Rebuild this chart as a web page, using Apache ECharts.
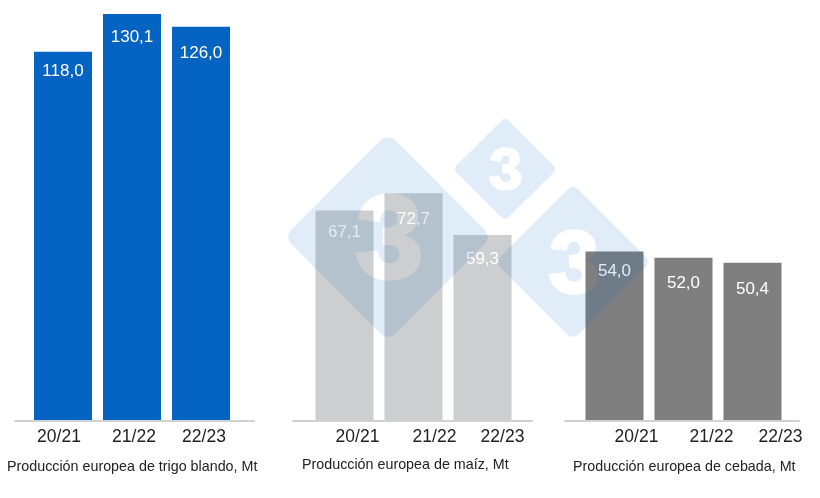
<!DOCTYPE html>
<html>
<head>
<meta charset="utf-8">
<style>
  html, body { margin: 0; padding: 0; background: #fff; }
  #app { width: 820px; height: 498px; }
</style>
<script src="https://cdn.jsdelivr.net/npm/echarts@6/dist/echarts.min.js"></script>
</head>
<body>
<div id="app"></div>
<script>
var campaigns = ['20/21', '21/22', '22/23'];
var trigoValues = [118.0, 130.1, 126.0];
var maizValues = [67.1, 72.7, 59.3];
var cebadaValues = [54.0, 52.0, 50.4];
var captions = [
  'Producción europea de trigo blando, Mt',
  'Producción europea de maíz, Mt',
  'Producción europea de cebada, Mt'
];

// layout of each panel, in pixels
var panels = [
  {values: trigoValues, color: '#0563c1', left: 28.5, lineLeft: 15, lineWidth: 239, capLeft: 7, capTop: 460,
    labelShift: [-4, 2, 3], valueGap: [11, 15, 18]},
  {values: maizValues, color: '#cdcecf', left: 310, lineLeft: 293, lineWidth: 239, capLeft: 302, capTop: 458,
    labelShift: [13, 21, 20], valueGap: [13, 18, 16]},
  {values: cebadaValues, color: '#7f7f7f', left: 580, lineLeft: 565, lineWidth: 234, capLeft: 573, capTop: 460,
    labelShift: [22, 28, 28], valueGap: [11, 17, 18]}
];

var fontName = '"Liberation Sans", Arial, sans-serif';
var grid = [], xAxis = [], yAxis = [], series = [], title = [];

panels.forEach(function (p, i) {
  // bars
  grid.push({left: p.left, top: 14, width: 207, height: 406});
  xAxis.push({
    type: 'category',
    gridIndex: grid.length - 1,
    data: campaigns.map(function (c, k) {
      var s = p.labelShift[k] * 2;
      return {value: c, textStyle: {padding: s > 0 ? [0, 0, 0, s] : [0, -s, 0, 0]}};
    }),
    axisLine: {show: false},
    axisTick: {show: false},
    axisLabel: {interval: 0, hideOverlap: false, margin: 8.5, color: '#222', fontSize: 17.5, fontFamily: fontName}
  });
  yAxis.push({type: 'value', gridIndex: grid.length - 1, min: 0, max: 130.1, show: false});
  series.push({
    type: 'bar',
    xAxisIndex: grid.length - 1,
    yAxisIndex: grid.length - 1,
    barWidth: 58,
    itemStyle: {color: p.color},
    data: p.values.map(function (v, k) {
      return {
        value: v,
        label: {
          show: true,
          position: 'insideTop',
          distance: p.valueGap[k],
          color: '#fff',
          fontSize: 17,
          fontFamily: fontName,
          formatter: function (o) { return o.value.toFixed(1).replace('.', ','); }
        }
      };
    }),
    animation: false
  });

  // baseline, it runs wider than the bars
  grid.push({left: p.lineLeft, top: 14, width: p.lineWidth, height: 407});
  xAxis.push({
    type: 'category',
    gridIndex: grid.length - 1,
    data: [''],
    axisLine: {lineStyle: {color: '#d2d2d2', width: 2}},
    axisTick: {show: false},
    axisLabel: {show: false}
  });
  yAxis.push({type: 'value', gridIndex: grid.length - 1, show: false});

  title.push({
    text: captions[i],
    left: p.capLeft,
    top: p.capTop,
    padding: 0,
    textStyle: {color: '#222', fontSize: 14.3, fontWeight: 'normal', fontFamily: fontName}
  });
});

// watermark: rounded diamond with a 3 cut out (opposite winding makes the hole)
var diamond = 'M-8,-92 Q0,-100 8,-92 L92,-8 Q100,0 92,8 L8,92 Q0,100 -8,92 L-92,8 Q-100,0 -92,-8 Z ';
var three = 'M-29,-17 L-8,-14 C-7,-22 -4,-26 1,-26 C6,-26 9,-22 9,-17 C9,-12 5,-9 -1,-9 L-5,-9 L-5,8 L1,8 ' +
  'C7,8 11,11 11,16 C11,21 8,25 1,25 C-5,25 -9,21 -10,13 L-31,15 C-29,32 -16,42 1,42 ' +
  'C18,42 32,33 32,18 C32,9 26,1 16,-2 C24,-5 29,-11 29,-20 C29,-32 19,-42 2,-42 C-14,-42 -26,-34 -29,-17 Z';

echarts.graphic.registerShape('watermark', echarts.graphic.extendPath(diamond + three, {}));

function mark(x, y, scale) {
  return {
    type: 'watermark',
    x: x,
    y: y,
    scaleX: scale,
    scaleY: scale,
    z: 100,
    silent: true,
    style: {fill: 'rgba(0,110,200,0.12)'}
  };
}

var myChart = echarts.init(document.getElementById('app'), null, {renderer: 'canvas'});
myChart.setOption({
  backgroundColor: '#fff',
  animation: false,
  title: title,
  grid: grid,
  xAxis: xAxis,
  yAxis: yAxis,
  series: series,
  graphic: [mark(388, 237, 1.04), mark(505, 169, 0.52), mark(573, 262, 0.78)]
});
</script>
</body>
</html>
